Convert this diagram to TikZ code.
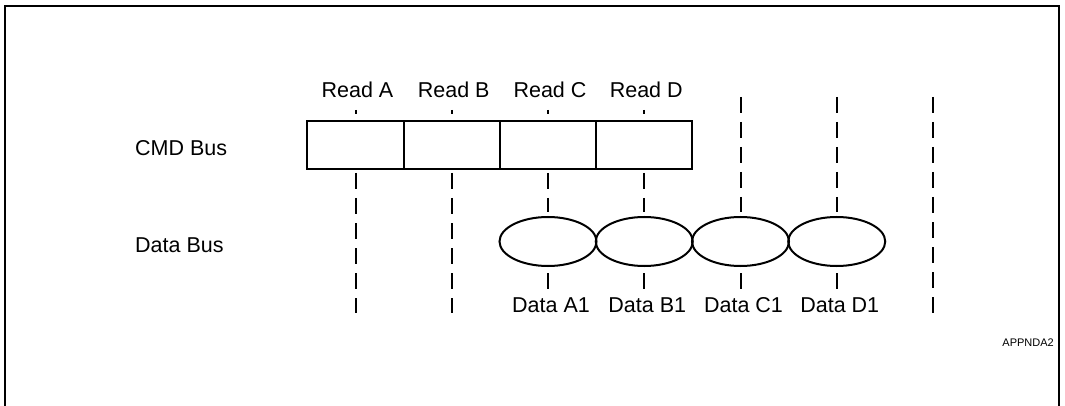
\documentclass[tikz,border=0pt]{standalone}
\usepackage{fontspec}
\setmainfont{Liberation Sans}
\usetikzlibrary{shapes.geometric}
\tikzset{
  cmdbox/.style={draw, line width=2pt, minimum width=96.25pt, minimum height=48pt, inner sep=0pt},
  databox/.style={draw, ellipse, line width=2pt, minimum width=97pt, minimum height=49pt, inner sep=0pt},
  guide/.style={line width=2pt, dash pattern=on 16pt off 9pt},
  lbl/.style={font=\fontsize{21.5}{25}\selectfont, inner sep=0pt}
}
\begin{document}
\begin{tikzpicture}[x=1pt, y=-1pt]
\useasboundingbox (0,0) rectangle (1065,406);
\draw[line width=2pt] (5,406) -- (5,6) -- (1059,6) -- (1059,406);

\node[lbl, anchor=west] (cmdbus) at (135,148) {CMD Bus};
\node[lbl, anchor=west] (databus) at (135,245) {Data Bus};

% command slots
\foreach \n [count=\i from 0, evaluate=\i as \x using 355.5+96.25*\i] in {A,B,C,D} {
  \node[cmdbox] (cmd\n) at (\x,145) {};
  \node[lbl] (read\n) at (\x+2,90) {Read \n};
  \coordinate (tick\n) at (\x,110);
  \draw[line width=2pt] (tick\n) -- ++(0,4);
}

% data slots
\foreach \n [count=\i from 0, evaluate=\i as \x using 548+96.25*\i] in {A,B,C,D} {
  \node[databox] (data\n) at (\x,241.5) {};
  \node[lbl] (lab\n) at (\x+3,305) {Data \n1};
  \draw[guide] ([yshift=-6pt]data\n.south) -- ++(0,16);
}

% timing guides
\coordinate (endA) at (355.5,313);
\coordinate (endB) at (451.75,313);
\coordinate (topE) at (740.5,97);
\coordinate (topF) at (836.75,97);
\coordinate (topG) at (933,97);
\coordinate (endG) at (933,313);
\draw[guide] ([yshift=-3pt]cmdA.south) -- (endA);
\draw[guide] ([yshift=-3pt]cmdB.south) -- (endB);
\draw[guide] ([yshift=-3pt]cmdC.south) -- ([yshift=4pt]dataA.north);
\draw[guide] ([yshift=-3pt]cmdD.south) -- ([yshift=4pt]dataB.north);
\draw[guide] (topE) -- ([yshift=4pt]dataC.north);
\draw[guide] (topF) -- ([yshift=4pt]dataD.north);
\draw[guide] (topG) -- (endG);

\node[font=\fontsize{11}{13}\selectfont, inner sep=0pt, anchor=east] (tag) at (1054,343) {APPNDA2};
\end{tikzpicture}
\end{document}
